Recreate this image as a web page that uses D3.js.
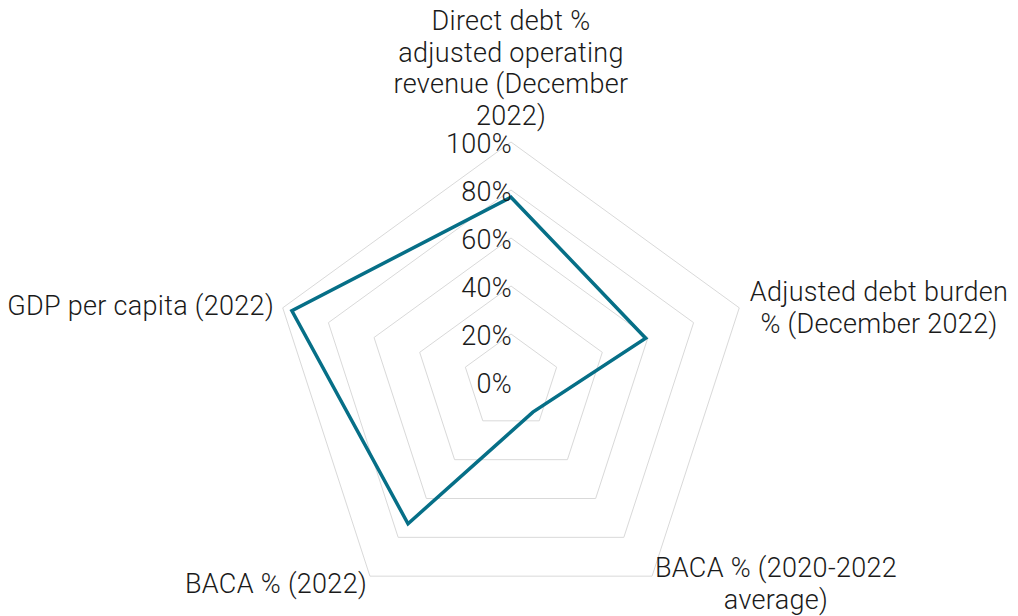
<!DOCTYPE html>
<html>
<head>
<meta charset="utf-8">
<script src="https://cdn.jsdelivr.net/npm/d3@7/dist/d3.min.js"></script>
<style>
  html, body { margin: 0; padding: 0; background: #ffffff; }
  svg { display: block; }
  text { font-family: Roboto, "Noto Sans", sans-serif; font-weight: 300; fill: #1a1a1a; letter-spacing: 0.3px; }
</style>
</head>
<body>
<svg id="chart" width="1018" height="616"></svg>
<script>
// Axis names (one per spoke, clockwise from the top), split into display lines
const axisLabels = [
  ["Direct debt %", "adjusted operating", "revenue (December", "2022)"],
  ["Adjusted debt burden", "% (December 2022)"],
  ["BACA % (2020-2022", "average)"],
  ["BACA % (2022)"],
  ["GDP per capita (2022)"]
];
// Series values, as fractions of 100%
const seriesValues = [0.77, 0.59, 0.155, 0.73, 0.96];
// Radial ticks
const tickValues = [0, 0.2, 0.4, 0.6, 0.8, 1.0];
const tickLabels = ["0%", "20%", "40%", "60%", "80%", "100%"];

const svg = d3.select("#chart");
const cx = 511, cy = 382, R = 240;
const n = axisLabels.length;

const r = d3.scaleLinear().domain([0, 1]).range([0, R]);
const angle = d3.scaleLinear().domain([0, n]).range([0, 2 * Math.PI]);

const pt = (i, v) => {
  const a = angle(i) - Math.PI / 2;
  return [cx + r(v) * Math.cos(a), cy + r(v) * Math.sin(a)];
};

const line = d3.line().curve(d3.curveLinearClosed);

// Gridline pentagons
svg.append("g")
  .selectAll("path")
  .data(tickValues.filter(t => t > 0))
  .join("path")
  .attr("d", t => line(d3.range(n).map(i => pt(i, t))))
  .attr("fill", "none")
  .attr("stroke", "#d9d9d9")
  .attr("stroke-width", 1);

// Series outline
svg.append("path")
  .attr("d", line(seriesValues.map((v, i) => pt(i, v))))
  .attr("fill", "none")
  .attr("stroke", "#066f87")
  .attr("stroke-width", 3.5)
  .attr("stroke-linejoin", "miter");

// Tick labels along the top spoke
svg.append("g")
  .selectAll("text")
  .data(tickValues)
  .join("text")
  .attr("x", cx + 1)
  .attr("y", t => cy - r(t) + 11)
  .attr("text-anchor", "end")
  .attr("font-size", 27)
  .text((t, i) => tickLabels[i]);

// Axis name placement: anchor, reference point and first baseline
const lh = 31.5;
const labelLayout = [
  { anchor: "middle", x: cx, y: 30 },
  { anchor: "middle", x: 879, y: 301 },
  { anchor: "middle", x: 776, y: 577 },
  { anchor: "middle", x: 276, y: 593 },
  { anchor: "end",    x: 274, y: 315 }
];

const lg = svg.append("g");
axisLabels.forEach((lines, i) => {
  const L = labelLayout[i];
  const t = lg.append("text")
    .attr("text-anchor", L.anchor)
    .attr("font-size", 27);
  lines.forEach((s, k) => {
    t.append("tspan").attr("x", L.x).attr("y", L.y + k * lh).text(s);
  });
});
</script>
</body>
</html>
